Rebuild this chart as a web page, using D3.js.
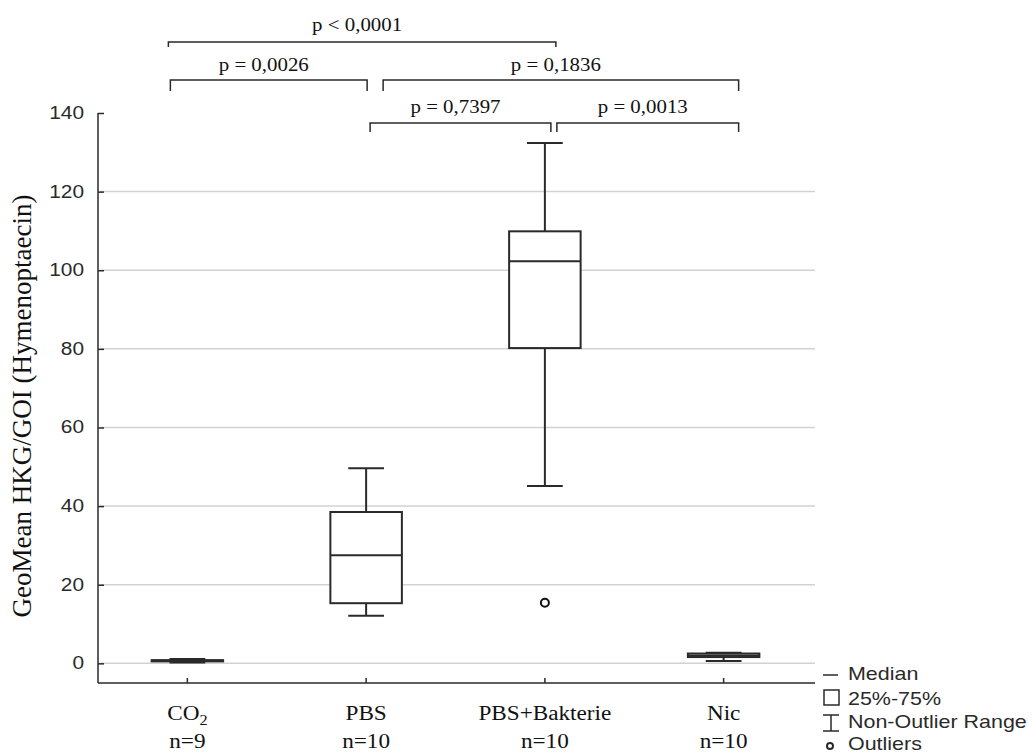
<!DOCTYPE html>
<html>
<head>
<meta charset="utf-8">
<script src="https://cdn.jsdelivr.net/npm/d3@7"></script>
<style>
  body { margin: 0; background: #fff; }
  svg { display: block; }
</style>
</head>
<body>
<div id="chart"></div>
<script>
// ==========================
// DATA
// ==========================
const categories = ["CO2", "PBS", "PBS+Bakterie", "Nic"];
const nLabels = ["n=9", "n=10", "n=10", "n=10"];

const mins    = [0.2, 12.1, 45.1, 0.6];
const q1s     = [0.5, 15.3, 80.2, 1.6];
const medians = [0.7, 27.5, 102.3, 2.0];
const q3s     = [0.8, 38.5, 109.9, 2.5];
const maxs    = [1.1, 49.6, 132.4, 2.7];
const outliers = [[], [], [15.4], []];

const yTicks = [0, 20, 40, 60, 80, 100, 120, 140];

// pairwise comparisons (from, to, label)
const pFrom   = ["CO2", "CO2", "PBS", "PBS", "PBS+Bakterie"];
const pTo     = ["PBS+Bakterie", "PBS", "Nic", "PBS+Bakterie", "Nic"];
const pLabels = ["p < 0,0001", "p = 0,0026", "p = 0,1836", "p = 0,7397", "p = 0,0013"];

const legendItems = ["Median", "25%-75%", "Non-Outlier Range", "Outliers"];

// ==========================
// SETUP
// ==========================
const width = 1032;
const height = 754;
const serif = "'Liberation Serif', 'Times New Roman', serif";
const sans = "'Liberation Sans', Arial, sans-serif";
const stretch = 1.16;   // the original picture is a bit wider than tall
const ink = "#2a2a2a";

const svg = d3.select("#chart")
  .append("svg")
  .attr("width", width)
  .attr("height", height);

svg.append("rect").attr("width", width).attr("height", height).attr("fill", "#fff");

const x = d3.scaleBand().domain(categories).range([98, 813]);
const y = d3.scaleLinear().domain([-5, 140]).range([683, 113]);
const cx = c => x(c) + x.bandwidth() / 2;
const boxW = x.bandwidth() * 0.4;
const capW = x.bandwidth() * 0.2;

// text placed at (tx, ty) and stretched horizontally
function putText(g, tx, ty, str) {
  return g.append("text")
    .attr("transform", `translate(${tx},${ty}) scale(${stretch},1)`)
    .text(str);
}

// ==========================
// GRID + AXES
// ==========================
svg.append("g")
  .selectAll("line")
  .data(yTicks.filter(t => t < 140))
  .enter()
  .append("line")
  .attr("x1", 100)
  .attr("x2", 815)
  .attr("y1", d => y(d))
  .attr("y2", d => y(d))
  .attr("stroke", "#d2d2d2")
  .attr("stroke-width", 1.5);

const yAxis = svg.append("g")
  .attr("transform", "translate(98,0)")
  .call(d3.axisLeft(y).tickValues(yTicks).tickSize(-6).tickSizeOuter(0).tickFormat(""));
yAxis.select(".domain").attr("stroke", ink).attr("stroke-width", 1.5)
  .attr("d", `M0,${y(140)}V683`);
yAxis.selectAll(".tick line").attr("stroke", ink).attr("stroke-width", 1.5);

const yLabels = svg.append("g")
  .attr("font-family", sans)
  .attr("font-size", 18)
  .attr("fill", ink)
  .attr("text-anchor", "end");
yTicks.forEach(t => {
  putText(yLabels, 84, y(t) + 6, t);
});

const xAxis = svg.append("g")
  .attr("transform", "translate(0,683)")
  .call(d3.axisBottom(x).tickSize(-5).tickSizeOuter(0).tickFormat(""));
xAxis.select(".domain").attr("stroke", ink).attr("stroke-width", 1.5)
  .attr("d", "M98,0H815");
xAxis.selectAll(".tick line").attr("stroke", ink).attr("stroke-width", 1.5);

const xLabels = svg.append("g")
  .attr("font-family", serif)
  .attr("font-size", 20)
  .attr("fill", "#111")
  .attr("text-anchor", "middle");
categories.forEach((c, i) => {
  const t = putText(xLabels, cx(c), 720, "");
  if (c === "CO2") {
    t.append("tspan").text("CO");
    t.append("tspan").attr("font-size", 14).attr("dy", 5).text("2");
  } else {
    t.text(c);
  }
  putText(xLabels, cx(c), 748, nLabels[i]);
});

// y title
svg.append("text")
  .attr("transform", `translate(31,406) rotate(-90)`)
  .attr("text-anchor", "middle")
  .attr("font-family", serif)
  .attr("font-size", 27)
  .attr("fill", "#111")
  .text("GeoMean HKG/GOI (Hymenoptaecin)");

// ==========================
// BOXES
// ==========================
const boxes = svg.append("g")
  .attr("stroke", ink)
  .attr("stroke-width", 2)
  .attr("fill", "none");

categories.forEach((c, i) => {
  const xc = cx(c);
  // whiskers
  boxes.append("line").attr("x1", xc).attr("x2", xc).attr("y1", y(maxs[i])).attr("y2", y(q3s[i]));
  boxes.append("line").attr("x1", xc).attr("x2", xc).attr("y1", y(q1s[i])).attr("y2", y(mins[i]));
  boxes.append("line").attr("x1", xc - capW / 2).attr("x2", xc + capW / 2).attr("y1", y(maxs[i])).attr("y2", y(maxs[i]));
  boxes.append("line").attr("x1", xc - capW / 2).attr("x2", xc + capW / 2).attr("y1", y(mins[i])).attr("y2", y(mins[i]));
  // box
  boxes.append("rect")
    .attr("x", xc - boxW / 2)
    .attr("y", y(q3s[i]))
    .attr("width", boxW)
    .attr("height", y(q1s[i]) - y(q3s[i]))
    .attr("fill", "#fff");
  boxes.append("line").attr("x1", xc - boxW / 2).attr("x2", xc + boxW / 2).attr("y1", y(medians[i])).attr("y2", y(medians[i]));
  // outliers
  outliers[i].forEach(v => {
    boxes.append("circle").attr("cx", xc).attr("cy", y(v)).attr("r", 4).attr("fill", "#fff").attr("stroke", "#111");
  });
});

// ==========================
// P-VALUE BRACKETS
// ==========================
const levelY = [42, 80, 123];
const levelDrop = [5, 11, 9];
const levelText = [31, 71, 113];
// level and end offsets for each bracket
const bracketLayout = [
  { level: 0, dx0: -19, dx1: 11 },
  { level: 1, dx0: -17, dx1: 1 },
  { level: 1, dx0: 17, dx1: 15 },
  { level: 2, dx0: 4, dx1: 6 },
  { level: 2, dx0: 12, dx1: 15 }
];

const brackets = svg.append("g");
pLabels.forEach((lab, i) => {
  const L = bracketLayout[i];
  const x0 = cx(pFrom[i]) + L.dx0;
  const x1 = cx(pTo[i]) + L.dx1;
  const by = levelY[L.level];
  brackets.append("path")
    .attr("d", `M${x0},${by + levelDrop[L.level]}V${by}H${x1}V${by + levelDrop[L.level]}`)
    .attr("fill", "none")
    .attr("stroke", ink)
    .attr("stroke-width", 1.5);
  putText(brackets, (x0 + x1) / 2 - 5, levelText[L.level], lab)
    .attr("text-anchor", "middle")
    .attr("font-family", serif)
    .attr("font-size", 18)
    .attr("fill", "#111");
});

// ==========================
// LEGEND
// ==========================
const legend = svg.append("g");
const legendY = [680, 705, 728, 750];
legendItems.forEach((d, i) => {
  putText(legend, 848, legendY[i], d)
    .attr("font-family", sans)
    .attr("font-size", 18.5)
    .attr("fill", ink);
});
const lg = legend.append("g").attr("stroke", ink).attr("stroke-width", 1.5).attr("fill", "none");
lg.append("line").attr("x1", 823).attr("x2", 838).attr("y1", 675).attr("y2", 675);
lg.append("rect").attr("x", 824).attr("y", 690).attr("width", 15).attr("height", 15);
lg.append("path").attr("d", "M823,715H839M831,715V731M823,731H839");
lg.append("circle").attr("cx", 830).attr("cy", 746).attr("r", 3).attr("stroke-width", 2);
</script>
</body>
</html>
